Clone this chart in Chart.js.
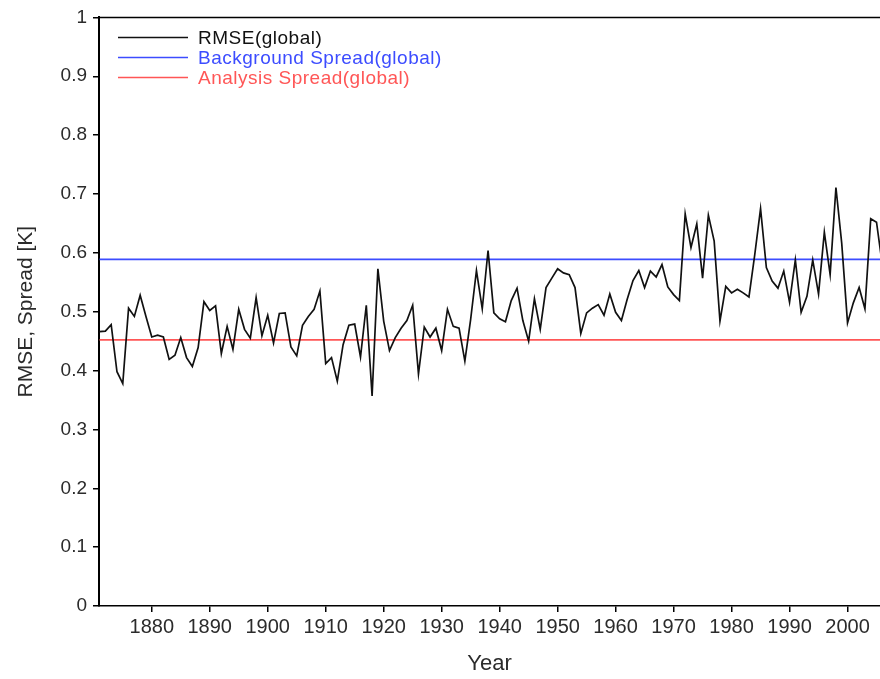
<!DOCTYPE html>
<html>
<head>
<meta charset="utf-8">
<script src="https://cdn.jsdelivr.net/npm/chart.js@4"></script>
<style>
  html, body { margin: 0; background: #fff; }
  canvas { display: block; }
</style>
</head>
<body>
<canvas id="chart" width="880" height="679"></canvas>
<script>
// yearly global RMSE, 1871 .. 2006
const rmse = [
  0.466, 0.467, 0.478, 0.398, 0.378, 0.506, 0.492, 0.528, 0.492, 0.457,
  0.460, 0.457, 0.419, 0.426, 0.456, 0.422, 0.407, 0.439, 0.517, 0.502,
  0.510, 0.429, 0.475, 0.436, 0.504, 0.470, 0.455, 0.524, 0.459, 0.494,
  0.447, 0.497, 0.498, 0.440, 0.425, 0.477, 0.492, 0.504, 0.535, 0.412,
  0.422, 0.382, 0.444, 0.477, 0.479, 0.423, 0.511, 0.357, 0.573, 0.484,
  0.434, 0.456, 0.472, 0.485, 0.511, 0.394, 0.474, 0.457, 0.472, 0.434,
  0.504, 0.475, 0.472, 0.416, 0.487, 0.570, 0.505, 0.604, 0.498, 0.488,
  0.483, 0.519, 0.540, 0.485, 0.450, 0.522, 0.470, 0.541, 0.557, 0.573,
  0.566, 0.563, 0.541, 0.463, 0.498, 0.506, 0.512, 0.494, 0.530, 0.499,
  0.485, 0.521, 0.553, 0.570, 0.541, 0.569, 0.559, 0.580, 0.542, 0.529,
  0.519, 0.666, 0.609, 0.649, 0.557, 0.664, 0.620, 0.484, 0.543, 0.532,
  0.538, 0.532, 0.525, 0.597, 0.675, 0.575, 0.552, 0.540, 0.569, 0.516,
  0.588, 0.499, 0.526, 0.588, 0.530, 0.635, 0.563, 0.711, 0.616, 0.481,
  0.515, 0.541, 0.505, 0.658, 0.652, 0.580
];
const firstYear = 1871;
const years = rmse.map((_, i) => firstYear + i);

const spreadYears = [1871, 2006];
const bgSpread = [0.589, 0.589];
const anSpread = [0.452, 0.452];

const xTicks = [1880, 1890, 1900, 1910, 1920, 1930, 1940, 1950, 1960, 1970, 1980, 1990, 2000];
const yTicks = [0, 0.1, 0.2, 0.3, 0.4, 0.5, 0.6, 0.7, 0.8, 0.9, 1];

const FONT = '"Liberation Sans", Arial, sans-serif';
const TEXT = '#2b2b2b';

// top frame line + legend stacked inside the plot (like the original)
const frameLegend = {
  id: 'frameLegend',
  afterDraw(chart) {
    const {ctx, chartArea: a} = chart;
    ctx.save();
    ctx.strokeStyle = '#000';
    ctx.lineWidth = 1.5;
    ctx.beginPath();
    ctx.moveTo(a.left, a.top);
    ctx.lineTo(a.right, a.top);
    ctx.stroke();

    ctx.font = '19px ' + FONT;
    ctx.letterSpacing = '0.5px';
    ctx.textBaseline = 'middle';
    chart.data.datasets.forEach((ds, i) => {
      const y = a.top + 20 + i * 20;
      ctx.strokeStyle = ds.borderColor;
      ctx.lineWidth = 1.5;
      ctx.beginPath();
      ctx.moveTo(a.left + 19, y);
      ctx.lineTo(a.left + 89, y);
      ctx.stroke();
      ctx.fillStyle = ds.legendText || ds.borderColor;
      ctx.fillText(ds.label, a.left + 99, y + 1);
    });
    ctx.restore();
  }
};

new Chart(document.getElementById('chart').getContext('2d'), {
  type: 'line',
  data: {
    datasets: [
      {
        label: 'RMSE(global)',
        data: years.map((x, i) => ({x, y: rmse[i]})),
        borderColor: '#111',
        legendText: '#111',
        borderWidth: 1.7,
      },
      {
        label: 'Background Spread(global)',
        data: spreadYears.map((x, i) => ({x, y: bgSpread[i]})),
        borderColor: '#3c4cff',
        borderWidth: 1.7,
      },
      {
        label: 'Analysis Spread(global)',
        data: spreadYears.map((x, i) => ({x, y: anSpread[i]})),
        borderColor: '#ff5656',
        borderWidth: 1.7,
      },
    ]
  },
  options: {
    responsive: false,
    animation: false,
    devicePixelRatio: 1,
    layout: {padding: {top: 14, right: 0, bottom: 0, left: 0}},
    elements: {point: {radius: 0}, line: {tension: 0}},
    plugins: {legend: {display: false}, tooltip: {enabled: false}},
    scales: {
      x: {
        type: 'linear',
        min: 1870.9,
        max: 2005.6,
        afterFit: s => { s.height = 73; },
        afterBuildTicks: s => { s.ticks = xTicks.map(v => ({value: v})); },
        ticks: {
          font: {family: FONT, size: 20},
          color: TEXT,
          padding: 3,
          maxRotation: 0,
          autoSkip: false,
          callback: v => String(v),
        },
        grid: {drawOnChartArea: false, drawTicks: true, tickLength: 6, color: '#000', lineWidth: 1.5},
        border: {display: true, color: '#000', width: 1.5},
        title: {
          display: true,
          text: 'Year',
          font: {family: FONT, size: 22},
          color: TEXT,
          padding: {top: 0, bottom: 2},
        },
      },
      y: {
        min: 0,
        max: 1,
        afterFit: s => { s.width = 99; },
        afterBuildTicks: s => { s.ticks = yTicks.map(v => ({value: v})); },
        ticks: {
          font: {family: FONT, size: 19},
          color: TEXT,
          padding: 6,
          callback: v => String(Math.round(v * 10) / 10),
        },
        grid: {drawOnChartArea: false, drawTicks: true, tickLength: 6, color: '#000', lineWidth: 1.5},
        border: {display: true, color: '#000', width: 2},
        title: {
          display: true,
          text: 'RMSE, Spread [K]',
          font: {family: FONT, size: 21},
          color: TEXT,
          padding: {top: 14, bottom: 0},
        },
      },
    },
  },
  plugins: [frameLegend],
});
</script>
</body>
</html>
